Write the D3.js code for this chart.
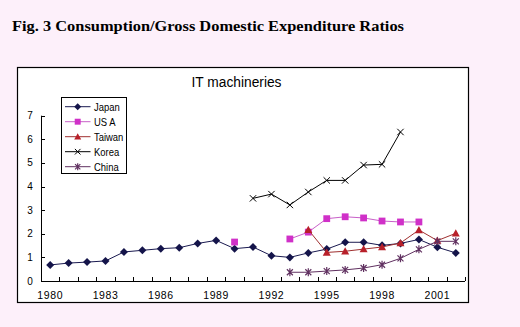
<!DOCTYPE html>
<html><head><meta charset="utf-8">
<script src="https://cdn.jsdelivr.net/npm/d3@7"></script>
<style>
html,body{margin:0;padding:0;background:#fdf0fa;}
svg{display:block;}
</style></head>
<body>
<svg id="c" width="520" height="327"></svg>
<script>
const years = d3.range(1980, 2003);
const tickYears = [1980, 1983, 1986, 1989, 1992, 1995, 1998, 2001];
const yTicks = [0, 1, 2, 3, 4, 5, 6, 7];
const japan = [0.68,0.76,0.80,0.85,1.23,1.30,1.37,1.41,1.59,1.72,1.37,1.44,1.07,1.00,1.19,1.35,1.64,1.64,1.51,1.59,1.76,1.43,1.19];
const usa = [null,null,null,null,null,null,null,null,null,null,1.65,null,null,1.78,2.07,2.64,2.72,2.67,2.54,2.50,2.50,null,null];
const taiwan = [null,null,null,null,null,null,null,null,null,null,null,null,null,null,2.17,1.21,1.26,1.35,1.44,1.61,2.16,1.71,2.02];
const korea = [null,null,null,null,null,null,null,null,null,null,null,3.50,3.68,3.22,3.77,4.26,4.26,4.91,4.94,6.31,null,null,null];
const china = [null,null,null,null,null,null,null,null,null,null,null,null,null,0.37,0.37,0.42,0.47,0.55,0.69,0.96,1.34,1.68,1.68];
const seriesNames = ["Japan", "US A", "Taiwan", "Korea", "China"];

const series = [
  {name: seriesNames[0], values: japan, line: "#1a1a50", fill: "#14144a", marker: "diamond"},
  {name: seriesNames[1], values: usa, line: "#c860c8", fill: "#d030c8", marker: "square"},
  {name: seriesNames[2], values: taiwan, line: "#a03030", fill: "#b8202a", marker: "triangle"},
  {name: seriesNames[3], values: korea, line: "#000000", fill: "#000000", marker: "x"},
  {name: seriesNames[4], values: china, line: "#603060", fill: "#603060", marker: "star"}
];

const svg = d3.select("#c");
const F = "'Liberation Sans', Arial, sans-serif";

svg.append("text").attr("x", 12).attr("y", 31)
  .attr("font-family", "'Liberation Serif','DejaVu Serif',serif").attr("font-weight", "bold")
  .attr("font-size", 15).attr("fill", "#000")
  .attr("textLength", 392).attr("lengthAdjust", "spacingAndGlyphs")
  .text("Fig. 3 Consumption/Gross Domestic Expenditure Ratios");

svg.append("rect").attr("x", 17.5).attr("y", 67.5).attr("width", 451).attr("height", 235)
  .attr("fill", "#fff").attr("stroke", "#000").attr("stroke-width", 1.2);

svg.append("text").attr("x", 236.5).attr("y", 87).attr("text-anchor", "middle")
  .attr("font-family", F).attr("font-size", 14).attr("fill", "#000")
  .attr("textLength", 90).attr("lengthAdjust", "spacingAndGlyphs")
  .text("IT machineries");

const x = d3.scaleBand().domain(years).range([41, 465]);
const y = d3.scaleLinear().domain([0, 7]).range([281, 115.7]);
const cx = d => x(d) + x.bandwidth() / 2;

// axes
const g = svg.append("g");
g.append("line").attr("x1", 41.5).attr("x2", 41.5).attr("y1", y(7)).attr("y2", y(0)).attr("stroke", "#000");
g.append("line").attr("x1", 41).attr("x2", 465).attr("y1", y(0) + 0.5).attr("y2", y(0) + 0.5).attr("stroke", "#000");
g.selectAll(".yt").data(yTicks).join("line")
  .attr("x1", 41).attr("x2", 45).attr("y1", d => Math.round(y(d)) + 0.5).attr("y2", d => Math.round(y(d)) + 0.5)
  .attr("stroke", "#000");
g.selectAll(".yl").data(yTicks).join("text")
  .attr("x", 30).attr("y", d => y(d) + 3.5).attr("text-anchor", "middle")
  .attr("font-family", F).attr("font-size", 10).text(d => d);
const bounds = years.slice(1).map(d => x(d)).concat([x(2002) + x.bandwidth()]);
g.selectAll(".xt").data(bounds).join("line")
  .attr("x1", d => Math.round(d) + 0.5).attr("x2", d => Math.round(d) + 0.5)
  .attr("y1", y(0)).attr("y2", y(0) - 4).attr("stroke", "#000");
g.selectAll(".xl").data(tickYears).join("text")
  .attr("x", d => cx(d)).attr("y", 299).attr("text-anchor", "middle")
  .attr("font-family", F).attr("font-size", 10.5).attr("letter-spacing", 0.6).text(d => d);

function drawMarker(sel, type, fill, s) {
  if (type === "diamond") {
    sel.append("path").attr("d", `M0,${-s}L${s},0L0,${s}L${-s},0Z`).attr("fill", fill);
  } else if (type === "square") {
    sel.append("rect").attr("x", -s * 0.85).attr("y", -s * 0.85).attr("width", s * 1.7).attr("height", s * 1.7).attr("fill", fill);
  } else if (type === "triangle") {
    sel.append("path").attr("d", `M0,${-s}L${s},${s * 0.8}L${-s},${s * 0.8}Z`).attr("fill", fill);
  } else if (type === "x") {
    const k = s * 0.8;
    sel.append("path").attr("d", `M${-k},${-k}L${k},${k}M${-k},${k}L${k},${-k}`).attr("stroke", fill).attr("stroke-width", 1);
  } else if (type === "star") {
    const k = s * 0.75;
    sel.append("path").attr("d", `M${-k},${-k}L${k},${k}M${-k},${k}L${k},${-k}M0,${-s}L0,${s}`).attr("stroke", fill).attr("stroke-width", 1.2);
  }
}

const line = d3.line().defined(d => d.v != null).x(d => cx(d.yr)).y(d => y(d.v));
series.forEach(s => {
  const pts = years.map((yr, i) => ({yr, v: s.values[i]}));
  svg.append("path").attr("d", line(pts)).attr("fill", "none").attr("stroke", s.line).attr("stroke-width", 1);
  pts.filter(p => p.v != null).forEach(p => {
    const m = svg.append("g").attr("transform", `translate(${cx(p.yr)},${y(p.v)})`);
    drawMarker(m, s.marker, s.fill, 4);
  });
});

// legend
const lg = svg.append("g");
lg.append("rect").attr("x", 61.5).attr("y", 97.5).attr("width", 65).attr("height", 76)
  .attr("fill", "#fff").attr("stroke", "#000");
series.forEach((s, i) => {
  const yy = 106.7 + i * 15;
  lg.append("line").attr("x1", 65).attr("x2", 90.5).attr("y1", yy).attr("y2", yy).attr("stroke", s.line);
  const m = lg.append("g").attr("transform", `translate(77.7,${yy})`);
  drawMarker(m, s.marker, s.fill, 3.5);
  lg.append("text").attr("x", 94).attr("y", yy + 4).attr("font-family", F).attr("font-size", 10.5)
    .attr("transform", `translate(94,0) scale(0.9,1) translate(-94,0)`)
    .text(s.name);
});
</script>
</body></html>
